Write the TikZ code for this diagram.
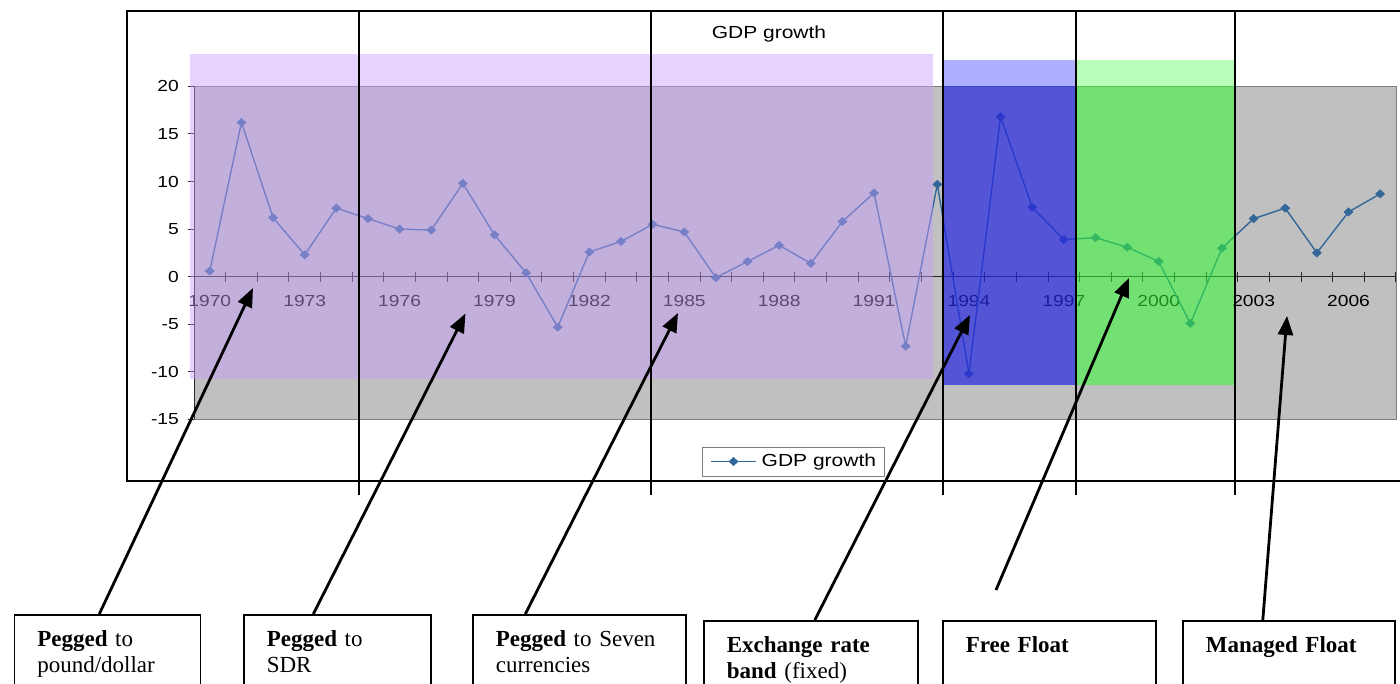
\documentclass[tikz,border=0pt]{standalone}
\usepackage{fontspec}
\setmainfont{Liberation Serif}
\newfontfamily\chartfont[FakeStretch=1.2]{Liberation Sans}
\usetikzlibrary{arrows.meta,calc}

\definecolor{gdpblue}{RGB}{51,102,153}
\definecolor{plotgray}{RGB}{192,192,192}
\definecolor{pegpurple}{RGB}{200,157,255}
\definecolor{bandblue}{RGB}{39,39,225}
\definecolor{bandbluecap}{RGB}{175,175,255}
\definecolor{floatgreen}{RGB}{52,252,52}
\definecolor{floatgreencap}{RGB}{185,255,185}

\def\gdpvalues{0.6,16.2,6.2,2.3,7.2,6.1,5.0,4.9,9.8,4.4,0.4,-5.3,2.6,3.7,5.5,4.7,-0.1,1.6,3.3,1.4,5.8,8.8,-7.3,9.7,-10.2,16.8,7.3,3.9,4.1,3.1,1.6,-4.9,3.0,6.1,7.2,2.5,6.8,8.7}

\begin{document}
\begin{tikzpicture}[x=1pt,y=-1pt,
	ticklbl/.style={font=\chartfont\fontsize{16}{19}\selectfont, inner sep=0pt},
	axisline/.style={line width=1pt, black!85},
	gdpline/.style={gdpblue, line width=1.4pt, line join=round},
	divider/.style={line width=2pt},
	pointer/.style={line width=2.8pt, -{Triangle[length=19pt,width=15pt]}},
	regime/.style={draw, line width=1.6pt, anchor=north west, align=left, inner xsep=23pt, inner ysep=16pt, text height=16pt, text depth=90pt, font=\fontsize{23}{25.5}\selectfont}]
		\useasboundingbox (0,0) rectangle (1400,684);
		% chart frame and plot area
		\draw[line width=1.5pt] (127,11) rectangle (1420,481);
		\filldraw[fill=plotgray, draw=gray] (194,86) rectangle (1396,419);
		\node[font=\chartfont\fontsize{17.5}{20}\selectfont] (title) at (769,34) {GDP growth};
		% axes
		\draw[axisline] (194,86) -- (194,419);
		\draw[axisline] (194,276.7) -- (1396,276.7);
		\foreach \v in {-15,-10,...,20} {
			\draw[axisline] (188,{276.7-(\v)*9.52}) -- (194,{276.7-(\v)*9.52});
			\node[ticklbl, anchor=east] (y\v) at (179,{276.7-(\v)*9.52}) {\v};
		}
		\foreach \k in {0,...,38}
			\draw[axisline] ({194+\k*31.63},272) -- ({194+\k*31.63},282);
		\foreach \yr [count=\i from 0] in {1970,1973,...,2006}
			\node[ticklbl] (x\yr) at ({194+(3*\i+0.5)*31.63},301) {\yr};
		% data
		\draw[gdpline] ({194+0.5*31.63},{276.7-0.6*9.52})
			\foreach \v [count=\i from 0] in \gdpvalues { -- ({194+(\i+0.5)*31.63},{276.7-(\v)*9.52}) };
		\foreach \v [count=\i from 0] in \gdpvalues
			\fill[gdpblue] ({194+(\i+0.5)*31.63},{276.7-(\v)*9.52}) +(0,-4.5) -- +(5,0) -- +(0,4.5) -- +(-5,0) -- cycle;
		% regime bands
		\fill[pegpurple, fill opacity=.46] (190,54) rectangle (933,379);
		\fill[bandbluecap] (943,60) rectangle (1075,86);
		\fill[bandblue, fill opacity=.7] (943,86) rectangle (1075,385);
		\fill[floatgreencap] (1076,60) rectangle (1235,86);
		\fill[floatgreen, fill opacity=.55] (1076,86) rectangle (1235,385);
		% legend
		\node[draw=gray, fill=white, line width=.8pt, minimum width=182pt, minimum height=29pt, anchor=north west, inner sep=0pt] (legend) at (702,447) {};
		\draw[gdpline] (711,461.5) -- (756,461.5);
		\fill[gdpblue] (733.5,461.5) +(0,-4.5) -- +(5,0) -- +(0,4.5) -- +(-5,0) -- cycle;
		\node[font=\chartfont\fontsize{17.5}{20}\selectfont, anchor=west, inner sep=0pt] (legtext) at (761.5,461.5) {GDP growth};
		% regime dividers
		\foreach \x in {358.7,650.7,942.7,1076,1235}
			\draw[divider] (\x,11) -- (\x,495);
		% boxes
		\node[regime, text width=140pt] (peg1) at (13.5,614) {\textbf{Pegged} to\\pound/dollar};
		\node[regime, text width=141pt] (peg2) at (243,614) {\textbf{Pegged} to\\SDR};
		\node[regime, text width=167pt] (peg3) at (472,614) {\textbf{Pegged} to Seven\\currencies};
		\node[regime, text width=168pt] (bandbox) at (703,620) {\textbf{Exchange rate}\\\textbf{band} (fixed)};
		\node[regime, text width=167pt] (freefloat) at (942,620) {\textbf{Free Float}};
		\node[regime, text width=166pt] (managed) at (1182,620) {\textbf{Managed Float}};
		% arrows
		\coordinate (tip1) at (253,288);
		\coordinate (tip2) at (465.5,313.5);
		\coordinate (tip3) at (678,313);
		\coordinate (tip4) at (970,315);
		\coordinate (tip5) at (1129,278);
		\coordinate (tip6) at (1287,316);
		\coordinate (tail5) at (996,590);
		\draw[pointer] ([xshift=-8pt]peg1.north) -- (tip1);
		\draw[pointer] ([xshift=-24pt]peg2.north) -- (tip2);
		\draw[pointer] ([xshift=-54pt]peg3.north) -- (tip3);
		\draw[pointer] ([xshift=4pt]bandbox.north) -- (tip4);
		\draw[pointer] (tail5) -- (tip5);
		\draw[pointer] ([xshift=-26pt]managed.north) -- (tip6);
	\end{tikzpicture}
\end{document}
